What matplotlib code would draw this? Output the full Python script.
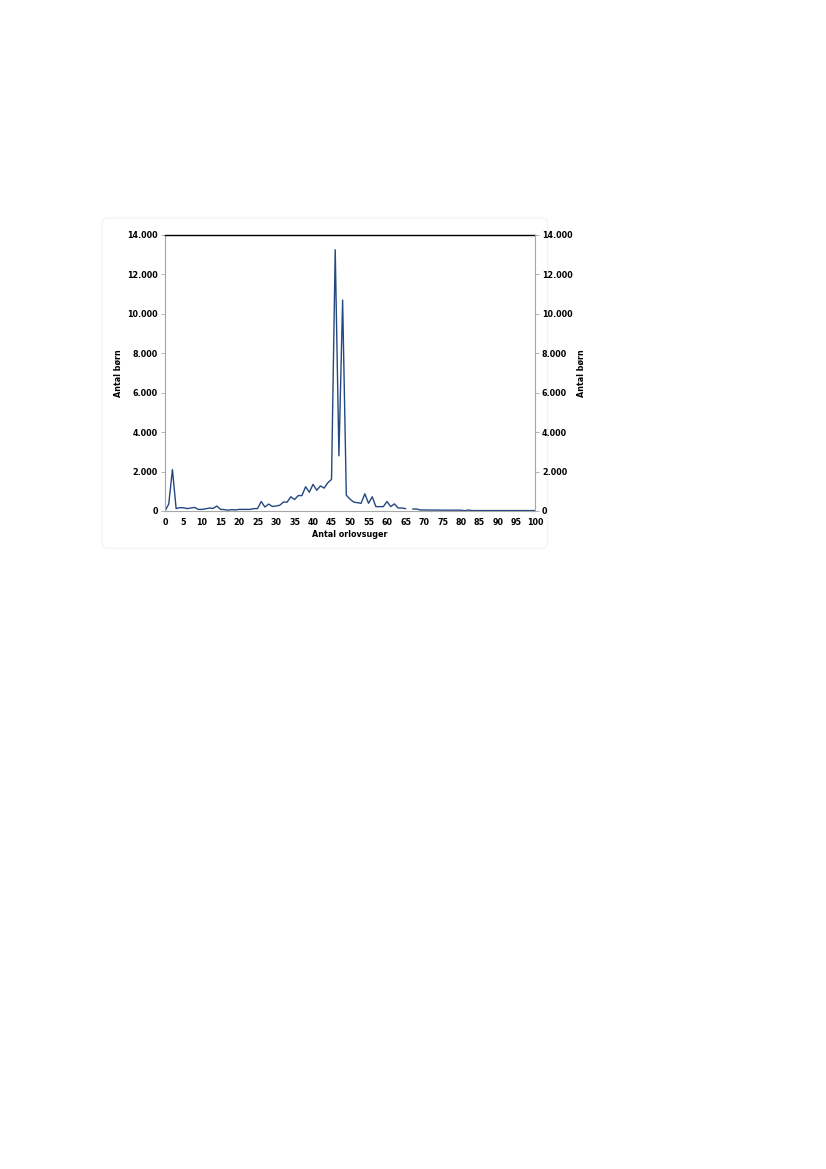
import numpy as np
import matplotlib
matplotlib.use("Agg")
import matplotlib.pyplot as plt
from matplotlib.ticker import FuncFormatter, MultipleLocator
from matplotlib.patches import FancyBboxPatch

# antal orlovsuger (0..100) og antal børn
weeks = list(range(0, 101))
children = [
    0, 350, 2100, 120, 170, 160, 120, 150, 180, 80,
    80, 110, 150, 130, 250, 80, 70, 40, 70, 50,
    80, 80, 80, 80, 120, 120, 480, 200, 350, 230,
    250, 290, 450, 450, 720, 580, 780, 780, 1230, 950,
    1350, 1050, 1270, 1160, 1430, 1600, 13250, 2800, 10700, 800,
    600, 450, 420, 390, 870, 390, 720, 220, 220, 220,
    480, 220, 360, 150, 150, 120, np.nan, 100, 100, 50,
    50, 50, 45, 45, 45, 40, 40, 40, 40, 40,
    40, 10, 50, 20, 20, 20, 20, 20, 20, 20,
    20, 20, 20, 20, 20, 20, 20, 20, 20, 20,
    20,
]
xlabel = "Antal orlovsuger"
ylabel = "Antal børn"

plt.rcParams['font.family'] = ['DejaVu Sans']
fs = 5.8

fig = plt.figure(figsize=(8.26, 11.69), dpi=100)

# faint chart-area frame
frame = FancyBboxPatch((0.1235, 0.531), 0.5395, 0.2825, boxstyle="round,pad=0,rounding_size=0.006",
                       transform=fig.transFigure, facecolor="white", edgecolor="#F2F2F2", lw=0.8,
                       zorder=-10)
fig.patches.append(frame)

ax = fig.add_axes([0.1998, 0.5629, 0.4479, 0.2361])
ax.patch.set_alpha(0)
ax.plot(weeks, children, color="#24487F", lw=1.0)

ax.set_xlim(0, 100)
ax.set_ylim(0, 14000)
ax.xaxis.set_major_locator(MultipleLocator(5))
ax.yaxis.set_major_locator(MultipleLocator(2000))

fmt = FuncFormatter(lambda v, p: f"{int(v):,}".replace(",", "."))
ax.yaxis.set_major_formatter(fmt)

for s in ["left", "bottom"]:
    ax.spines[s].set_color("#A6A6A6")
    ax.spines[s].set_linewidth(0.8)
ax.spines["right"].set_visible(False)
ax.spines["top"].set_color("black")
ax.spines["top"].set_linewidth(1.0)

ax.tick_params(axis="y", length=3, width=0.6, color="#A6A6A6", labelsize=fs, pad=2)
ax.tick_params(axis="x", length=0, labelsize=fs, pad=5)
for lbl in ax.get_xticklabels() + ax.get_yticklabels():
    lbl.set_fontweight("bold")

ax.set_xlabel(xlabel, fontsize=fs, fontweight="bold", labelpad=2)
ax.set_ylabel(ylabel, fontsize=fs, fontweight="bold", labelpad=3)

ax2 = ax.twinx()
ax2.set_ylim(0, 14000)
ax2.yaxis.set_major_locator(MultipleLocator(2000))
ax2.yaxis.set_major_formatter(fmt)
for s in ["left", "top", "bottom"]:
    ax2.spines[s].set_visible(False)
ax2.spines["right"].set_color("#A6A6A6")
ax2.spines["right"].set_linewidth(0.8)
ax2.tick_params(axis="y", length=3, width=0.6, color="#A6A6A6", labelsize=fs, pad=2)
for lbl in ax2.get_yticklabels():
    lbl.set_fontweight("bold")
ax2.set_ylabel(ylabel, fontsize=fs, fontweight="bold", labelpad=3)

fig.savefig("out.png", dpi=100)
